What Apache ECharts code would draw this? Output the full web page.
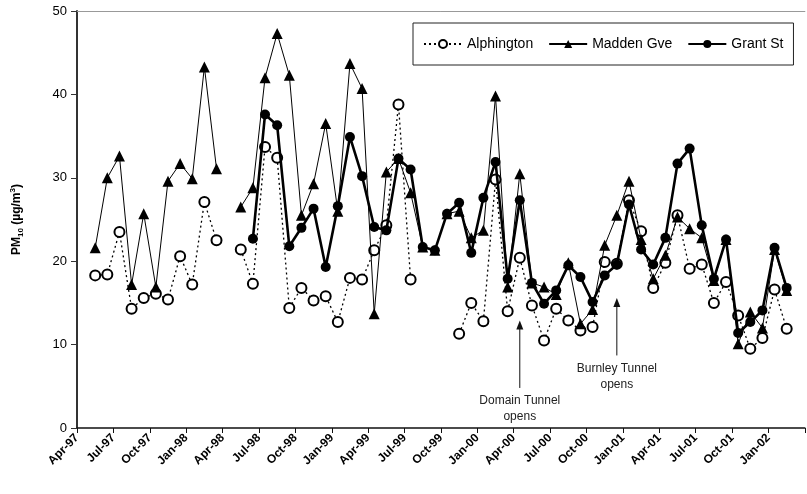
<!DOCTYPE html>
<html>
<head>
<meta charset="UTF-8">
<title>PM10</title>
<script src="https://cdn.jsdelivr.net/npm/echarts@6/dist/echarts.min.js"></script>
<style>
  html, body { margin: 0; padding: 0; background: #fff; }
  #main { width: 807px; height: 494px; }
</style>
</head>
<body>
<div id="main"></div>
<script type="text/javascript">
// monthly values, index 0 = Apr-97
var tickLabels = ['Apr-97', 'Jul-97', 'Oct-97', 'Jan-98', 'Apr-98', 'Jul-98', 'Oct-98', 'Jan-99', 'Apr-99', 'Jul-99',
  'Oct-99', 'Jan-00', 'Apr-00', 'Jul-00', 'Oct-00', 'Jan-01', 'Apr-01', 'Jul-01', 'Oct-01', 'Jan-02'];

var alphington = [null, 18.3, 18.4, 23.5, 14.3, 15.6, 16.1, 15.4, 20.6, 17.2, 27.1, 22.5,
  null, 21.4, 17.3, 33.7, 32.4, 14.4, 16.8, 15.3, 15.8, 12.7, 18.0, 17.8, 21.3, 24.3, 38.8, 17.8,
  null, null, null, 11.3, 15.0, 12.8, 29.8, 14.0, 20.4, 14.7, 10.5, 14.3, 12.9, 11.7, 12.1, 19.9,
  19.7, 27.3, 23.6, 16.8, 19.8, 25.5, 19.1, 19.6, 15.0, 17.5, 13.5, 9.5, 10.8, 16.6, 11.9];

var madden = [null, 21.6, 30.0, 32.6, 17.2, 25.7, 16.9, 29.6, 31.7, 29.9, 43.3, 31.1,
  null, 26.5, 28.8, 42.0, 47.3, 42.3, 25.5, 29.3, 36.5, 26.0, 43.7, 40.7, 13.7, 30.7, 32.3, 28.2,
  21.7, 21.3, 25.7, 26.0, 22.8, 23.7, 39.8, 16.9, 30.5, 17.4, 16.9, 16.0, 19.8, 12.5, 14.2, 21.9,
  25.5, 29.6, 22.6, 17.9, 20.7, 25.3, 23.9, 22.8, 17.7, 22.6, 10.1, 13.9, 12.0, 21.4, 16.5];

var grant = [null, null, null, null, null, null, null, null, null, null, null, null,
  null, null, 22.7, 37.6, 36.3, 21.8, 24.0, 26.3, 19.3, 26.6, 34.9, 30.2, 24.1, 23.7, 32.3, 31.0,
  21.7, 21.3, 25.7, 27.0, 21.0, 27.6, 31.9, 17.9, 27.3, 17.4, 14.9, 16.5, 19.5, 18.1, 15.1, 18.3,
  19.6, 26.8, 21.4, 19.6, 22.8, 31.7, 33.5, 24.3, 17.9, 22.6, 11.4, 12.7, 14.1, 21.6, 16.8];

// annotations: month index, arrow from / to value, text
var notes = [
  { month: 36, from: 4.8, to: 12.9, text: ['Domain Tunnel', 'opens'] },
  { month: 44, from: 8.7, to: 15.6, text: ['Burnley Tunnel', 'opens'] }
];

function pts(arr) {
  return arr.map(function (v, i) { return [i + 0.5, v]; });
}

var font = 'Liberation Sans, Arial, sans-serif';
var myChart = echarts.init(document.getElementById('main'));

var option = {
  animation: false,
  backgroundColor: '#fff',
  grid: { left: 77, right: -6, top: 11, bottom: 66 },
  legend: {
    left: 413, top: 23,
    padding: [14, 10, 14, 10],
    borderColor: '#222', borderWidth: 1,
    itemWidth: 38, itemHeight: 10, itemGap: 15,
    textStyle: { fontFamily: font, fontSize: 14, color: '#000' },
    data: ['Alphington', 'Madden Gve', 'Grant St']
  },
  xAxis: [{
    type: 'value', min: 0, max: 60, interval: 3,
    axisLine: { lineStyle: { color: '#111', width: 1.5 } },
    axisTick: { length: 5, lineStyle: { color: '#111' } },
    splitLine: { show: false },
    axisLabel: {
      rotate: 45, margin: 8,
      fontFamily: font, fontSize: 12, fontWeight: 'bold', color: '#000',
      formatter: function (v) { return tickLabels[v / 3] || ''; }
    }
  }, {
    type: 'value', position: 'top', min: 0, max: 60,
    axisLine: { show: true, lineStyle: { color: '#999', width: 1 } },
    axisTick: { show: false }, axisLabel: { show: false }, splitLine: { show: false }
  }],
  yAxis: {
    type: 'value', min: 0, max: 50, interval: 10,
    axisLine: { show: true, lineStyle: { color: '#333', width: 2 } },
    axisTick: { show: true, length: 6, lineStyle: { color: '#333' } },
    splitLine: { show: false },
    axisLabel: { fontFamily: font, fontSize: 13, color: '#000', margin: 10 },
    name: '{a|PM}{b|10}{a| (µg/m}{c|3}{a|)}',
    nameLocation: 'middle', nameGap: 52,
    nameTextStyle: {
      rich: {
        a: { fontFamily: font, fontSize: 12, fontWeight: 'bold', color: '#000', lineHeight: 16 },
        b: { fontFamily: font, fontSize: 8, fontWeight: 'bold', color: '#000', lineHeight: 16, verticalAlign: 'bottom' },
        c: { fontFamily: font, fontSize: 8, fontWeight: 'bold', color: '#000', lineHeight: 16, verticalAlign: 'top' }
      }
    }
  },
  series: [{
    name: 'Alphington', type: 'line', data: pts(alphington),
    symbol: 'emptyCircle', symbolSize: 10, showAllSymbol: true, z: 2,
    lineStyle: { color: '#000', width: 1.3, type: [2, 3] },
    itemStyle: { color: '#000', borderColor: '#000', borderWidth: 1 }
  }, {
    name: 'Madden Gve', type: 'line', data: pts(madden),
    symbol: 'triangle', symbolSize: 11, showAllSymbol: true, z: 3,
    lineStyle: { color: '#000', width: 1 },
    itemStyle: { color: '#000' }
  }, {
    name: 'Grant St', type: 'line', data: pts(grant),
    symbol: 'circle', symbolSize: 10, showAllSymbol: true, z: 4,
    lineStyle: { color: '#000', width: 2.6 },
    itemStyle: { color: '#000' }
  }]
};
myChart.setOption(option);

// annotation arrows and text placed through the axes
var g = [];
notes.forEach(function (n) {
  var a = myChart.convertToPixel({ xAxisIndex: 0, yAxisIndex: 0 }, [n.month + 0.5, n.from]);
  var b = myChart.convertToPixel({ xAxisIndex: 0, yAxisIndex: 0 }, [n.month + 0.5, n.to]);
  g.push({ type: 'line', shape: { x1: a[0], y1: a[1], x2: b[0], y2: b[1] + 7 }, style: { stroke: '#111', lineWidth: 1 } });
  g.push({ type: 'polygon', shape: { points: [[b[0], b[1]], [b[0] - 3.5, b[1] + 9], [b[0] + 3.5, b[1] + 9]] }, style: { fill: '#111' } });
  g.push({
    type: 'text', x: a[0], y: a[1] + 5,
    style: { text: n.text.join('\n'), fill: '#222', font: '12px ' + font, align: 'center', verticalAlign: 'top', lineHeight: 16 }
  });
});
myChart.setOption({ graphic: g });
</script>
</body>
</html>
